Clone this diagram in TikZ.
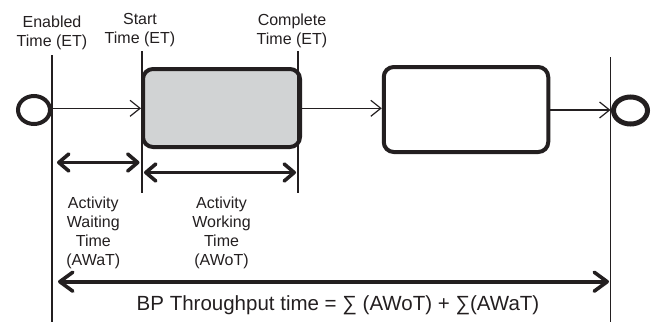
\documentclass[tikz,border=0pt]{standalone}
\usepackage{fontspec}
\setmainfont{Liberation Sans}
\usetikzlibrary{arrows.meta,shapes.geometric}
\definecolor{ink}{HTML}{231F20}
\definecolor{actfill}{HTML}{D1D3D4}
\begin{document}
\begin{tikzpicture}[x=1pt,y=-1pt,
  flow/.style={draw=ink, line width=1.2pt, -{Straight Barb[length=10pt,width=16pt]}},
  span/.style={draw=ink, line width=3.6pt,
    {Straight Barb[length=10pt,width=17pt,round]}-{Straight Barb[length=10pt,width=17pt,round]}},
  total/.style={draw=ink, line width=3.6pt,
    {Straight Barb[length=13pt,width=19pt,round]}-{Straight Barb[length=13pt,width=19pt,round]}},
  timeline/.style={draw=ink, line width=1.3pt},
  activity/.style={rectangle, draw=ink, line width=4pt, rounded corners=10pt, inner sep=0pt},
  event/.style={ellipse, draw=ink, inner sep=0pt},
  lbl/.style={font=\fontsize{16}{19}\selectfont, text=ink, align=center, inner sep=0pt}]
\useasboundingbox (0,0) rectangle (656,322);

% process elements
\node[event, line width=4pt, minimum width=32pt, minimum height=28pt] (start) at (34,110) {};
\node[activity, fill=actfill, minimum width=157pt, minimum height=78pt] (box1) at (221.5,108) {};
\node[activity, minimum width=164.5pt, minimum height=85pt] (box2) at (466,109.5) {};
\node[event, line width=5pt, minimum width=34pt, minimum height=27pt] (end) at (630.5,110.5) {};

% time markers
\coordinate (enT) at (52,55);    \coordinate (enB) at (52,322);
\coordinate (stT) at (142,51);   \coordinate (stB) at (142,193);
\coordinate (coT) at (298,51);   \coordinate (coB) at (298,193);
\coordinate (fiT) at (610.5,57); \coordinate (fiB) at (610.5,322);
\draw[timeline] (enT) -- (enB);
\draw[timeline] (stT) -- (stB);
\draw[timeline] (coT) -- (coB);
\draw[timeline] (fiT) -- (fiB);

% sequence flow
\draw[flow] (start.east |- 0,108.3) -- (box1.west |- 0,108.3);
\draw[flow] (box1.east |- 0,108.3) -- (box2.west |- 0,108.3);
\draw[flow] (box2.east |- 0,110) -- (fiT |- 0,110);

% durations
\coordinate (wa1) at (57,162.5);  \coordinate (wa2) at (139.5,162.5);
\coordinate (wo1) at (144,172.5); \coordinate (wo2) at (296,172.5);
\coordinate (bp1) at (58,281.7);  \coordinate (bp2) at (609,281.7);
\draw[span] (wa1) -- (wa2);
\draw[span] (wo1) -- (wo2);
\draw[total] (bp1) -- (bp2);

% labels
\node[lbl, anchor=north] (enabled) at (52,15.5) {Enabled\\Time (ET)};
\node[lbl, anchor=north] (started) at (140,13.3) {Start\\Time (ET)};
\node[lbl, anchor=north] (completed) at (292,13.3) {Complete\\Time (ET)};
\node[lbl, anchor=north] (awat) at (93.3,197) {Activity\\Waiting\\Time\\(AWaT)};
\node[lbl, anchor=north] (awot) at (221.5,197) {Activity\\Working\\Time\\(AWoT)};
\node[font=\fontsize{20.5}{23}\selectfont, text=ink, inner sep=0pt, anchor=base] (bp) at (338,310)
  {BP Throughput time = ∑ (AWoT) + ∑(AWaT)};
\end{tikzpicture}
\end{document}
